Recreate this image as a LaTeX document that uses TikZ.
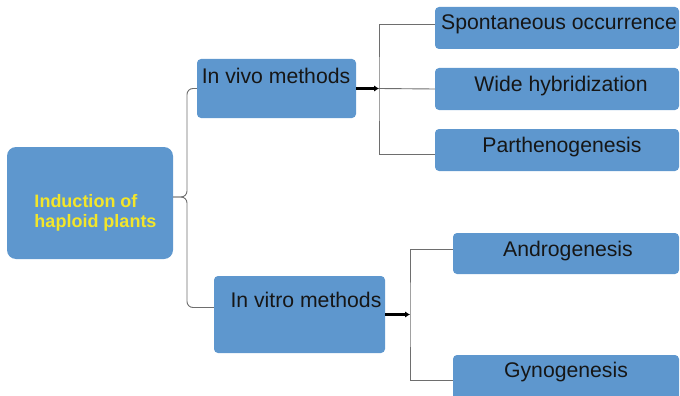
\documentclass[tikz,border=0pt]{standalone}
\usepackage{fontspec}
\setmainfont{Liberation Sans}
\definecolor{boxblue}{HTML}{5E97CE}
\definecolor{labelyellow}{HTML}{F3E62A}
\definecolor{inkdark}{HTML}{161616}
\definecolor{linegrey}{HTML}{6E6E6E}
\usetikzlibrary{arrows.meta, positioning}
\tikzset{
  mbox/.style={fill=boxblue, rounded corners=4pt, inner sep=0pt},
  mtext/.style={anchor=base, inner sep=0pt, text=inkdark,
                font=\fontsize{21.2}{25}\selectfont},
  branch/.style={linegrey, line width=0.9pt},
  push/.style={black, line width=2.8pt, -{Latex[length=5pt, width=6.5pt]}},
}

\begin{document}
\begin{tikzpicture}[x=1pt, y=-1pt]
  \useasboundingbox (0,0) rectangle (680,396);

  % Root
  \node[mbox, rounded corners=9pt, minimum width=166, minimum height=112] (induction) at (90,203) {};
  \node[align=left, inner sep=0pt, text=labelyellow, font=\bfseries\fontsize{18}{20}\selectfont]
    (inductiontext) at (95.5,213) {Induction of\\haploid plants};

  % Method boxes
  \node[mbox, minimum width=159, minimum height=59] (vivo) at (276.5,88.5) {};
  \node[mtext] (vivotext) at (276,83) {In vivo methods};
  \node[mbox, minimum width=171, minimum height=77] (vitro) at (299.5,314.5) {};
  \node[mtext] (vitrotext) at (306,307) {In vitro methods};

  % In vivo leaves
  \node[mbox, minimum width=244, minimum height=42] (spont) at (557,28) {};
  \node[mtext] at (559,30) {Spontaneous occurrence};
  \node[mbox, minimum width=244, minimum height=42] (wide) at (557,89) {};
  \node[mtext] at (561,92) {Wide hybridization};
  \node[mbox, minimum width=244, minimum height=42] (parth) at (557,150) {};
  \node[mtext] at (562,152) {Parthenogenesis};

  % In vitro leaves
  \node[mbox, minimum width=226, minimum height=41] (andro) at (566,253.5) {};
  \node[mtext] at (568,256) {Androgenesis};
  \node[mbox, minimum width=226, minimum height=45] (gyno) at (566,377.5) {};
  \node[mtext] at (566,377) {Gynogenesis};

  % Brace
  \coordinate (tip) at (187,197);
  \draw[branch, rounded corners=6pt] (vivo.west) -| (tip) -- ([yshift=6pt]induction.east);
  \draw[branch, rounded corners=6pt] ([yshift=6pt]induction.east) -- (tip) |- ([yshift=7pt]vitro.west);

  % In vivo branch
  \coordinate (vivojoin) at (379,88.5);
  \draw[push] (vivo.east) -- (vivojoin);
  \draw[branch] ([yshift=4pt]spont.west) -| (vivojoin) |- ([yshift=-4pt]parth.west);
  \draw[branch] (vivojoin) -- (wide.west);

  % In vitro branch
  \coordinate (vitrojoin) at (410,314.5);
  \draw[push] (vitro.east) -- (vitrojoin);
  \draw[branch] ([yshift=4.5pt]andro.west) -| (vitrojoin) |- ([yshift=-2.5pt]gyno.west);
\end{tikzpicture}
\end{document}
